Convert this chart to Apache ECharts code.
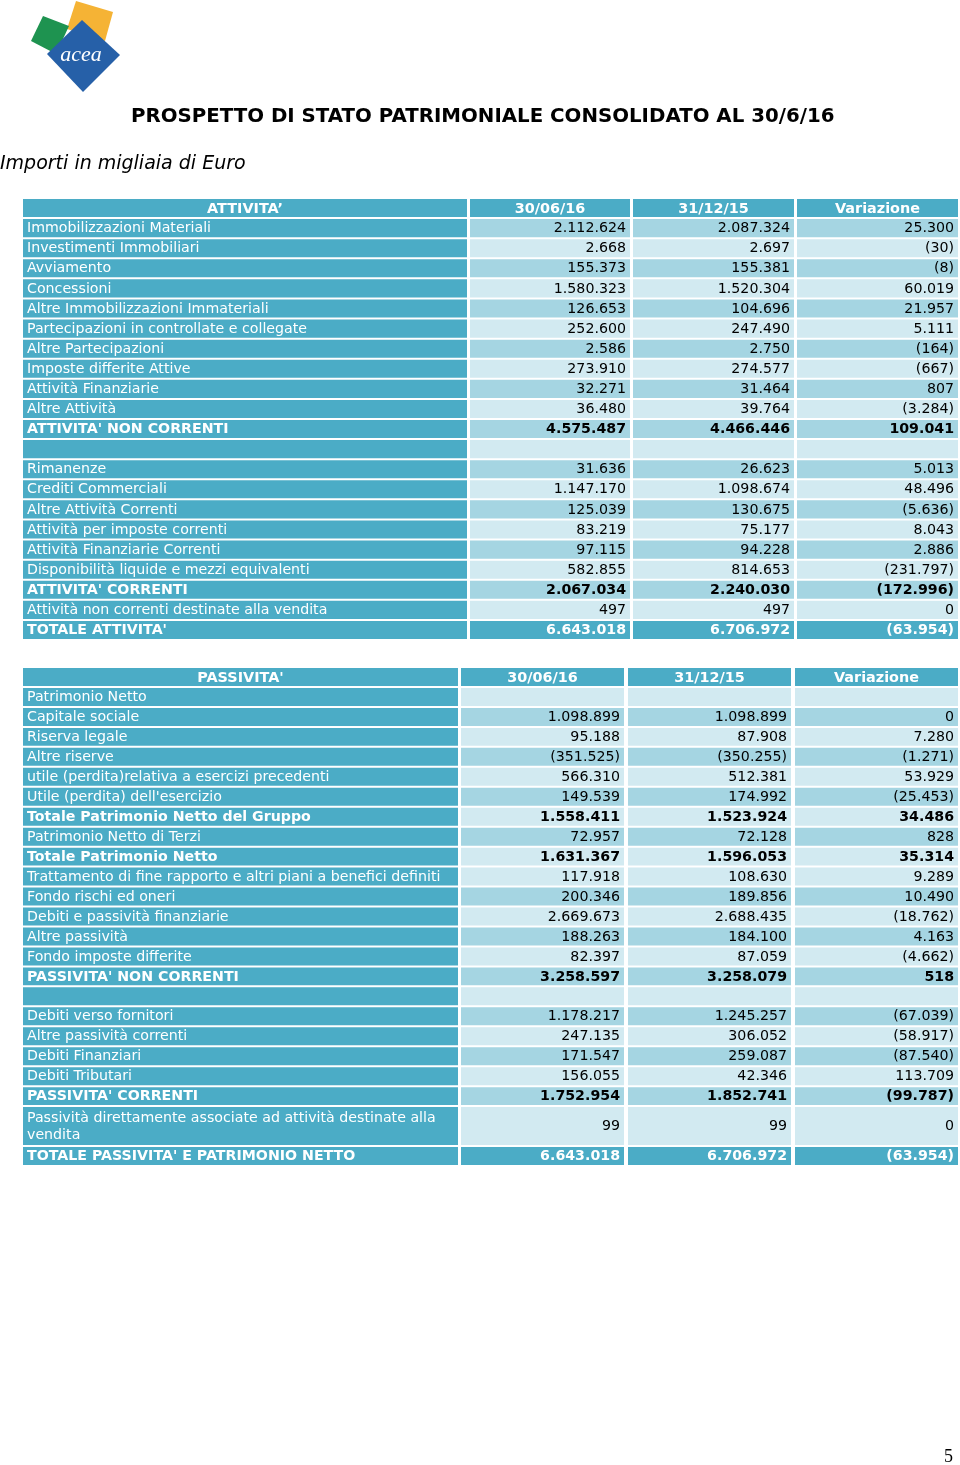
<!DOCTYPE html>
<html><head><meta charset="utf-8">
<script src="https://cdn.jsdelivr.net/npm/echarts@6/dist/echarts.min.js"></script>
<style>html,body{margin:0;padding:0;background:#fff}#c{width:960px;height:1465px}</style>
</head><body><div id="c"></div>
<script>
// ---------------- DATA ----------------
const attHeader = ["ATTIVITA’", "30/06/16", "31/12/15", "Variazione"];
const attLabels = [
  "Immobilizzazioni Materiali", "Investimenti Immobiliari", "Avviamento", "Concessioni",
  "Altre Immobilizzazioni Immateriali", "Partecipazioni in controllate e collegate",
  "Altre Partecipazioni", "Imposte differite Attive", "Attività Finanziarie", "Altre Attività",
  "ATTIVITA' NON CORRENTI", "",
  "Rimanenze", "Crediti Commerciali", "Altre Attività Correnti", "Attività per imposte correnti",
  "Attività Finanziarie Correnti", "Disponibilità liquide e mezzi equivalenti",
  "ATTIVITA' CORRENTI", "Attività non correnti destinate alla vendita", "TOTALE ATTIVITA'"
];
const attCur  = [2112624, 2668, 155373, 1580323, 126653, 252600, 2586, 273910, 32271, 36480, 4575487, null,
  31636, 1147170, 125039, 83219, 97115, 582855, 2067034, 497, 6643018];
const attPrev = [2087324, 2697, 155381, 1520304, 104696, 247490, 2750, 274577, 31464, 39764, 4466446, null,
  26623, 1098674, 130675, 75177, 94228, 814653, 2240030, 497, 6706972];
const attVar  = [25300, -30, -8, 60019, 21957, 5111, -164, -667, 807, -3284, 109041, null,
  5013, 48496, -5636, 8043, 2886, -231797, -172996, 0, -63954];
const attSubtotals = ["ATTIVITA' NON CORRENTI", "ATTIVITA' CORRENTI"];
const attTotal = "TOTALE ATTIVITA'";

const pasHeader = ["PASSIVITA'", "30/06/16", "31/12/15", "Variazione"];
const pasLabels = [
  "Patrimonio Netto", "Capitale sociale", "Riserva legale", "Altre riserve",
  "utile (perdita)relativa a esercizi precedenti", "Utile (perdita) dell'esercizio",
  "Totale Patrimonio Netto del Gruppo", "Patrimonio Netto di Terzi", "Totale Patrimonio Netto",
  "Trattamento di fine rapporto e altri piani a benefici definiti", "Fondo rischi ed oneri",
  "Debiti e passività finanziarie", "Altre passività", "Fondo imposte differite",
  "PASSIVITA' NON CORRENTI", "",
  "Debiti verso fornitori", "Altre passività correnti", "Debiti Finanziari", "Debiti Tributari",
  "PASSIVITA' CORRENTI", "Passività direttamente associate ad attività destinate alla vendita",
  "TOTALE PASSIVITA' E PATRIMONIO NETTO"
];
const pasCur  = [null, 1098899, 95188, -351525, 566310, 149539, 1558411, 72957, 1631367, 117918, 200346,
  2669673, 188263, 82397, 3258597, null, 1178217, 247135, 171547, 156055, 1752954, 99, 6643018];
const pasPrev = [null, 1098899, 87908, -350255, 512381, 174992, 1523924, 72128, 1596053, 108630, 189856,
  2688435, 184100, 87059, 3258079, null, 1245257, 306052, 259087, 42346, 1852741, 99, 6706972];
const pasVar  = [null, 0, 7280, -1271, 53929, -25453, 34486, 828, 35314, 9289, 10490,
  -18762, 4163, -4662, 518, null, -67039, -58917, -87540, 113709, -99787, 0, -63954];
const pasSubtotals = ["Totale Patrimonio Netto del Gruppo", "Totale Patrimonio Netto",
  "PASSIVITA' NON CORRENTI", "PASSIVITA' CORRENTI"];
const pasTotal = "TOTALE PASSIVITA' E PATRIMONIO NETTO";

// ---------------- STYLE / LAYOUT ----------------
const DARK = '#4BACC6', MED = '#A5D5E2', LIGHT = '#D2EAF1';
const FF = '"DejaVu Sans", Verdana, sans-serif';
const FS = 14.2, FSH = 14.4;

function fmt(v) {
  if (v === null || v === undefined) return '';
  const s = Math.abs(v).toString().replace(/\B(?=(\d{3})+(?!\d))/g, '.');
  return v < 0 ? '(' + s + ')' : s;
}
const mctx = document.createElement('canvas').getContext('2d');
mctx.font = FS + 'px ' + FF;

function buildTable(header, labels, cur, prev, vari, subs, total, cols, bandOf) {
  const rows = [{kind: 'header', cells: header, slot: 0, span: 1}];
  let slot = 1;
  const labW = cols[0][1] - cols[0][0] - 8;
  labels.forEach((l, i) => {
    const span = mctx.measureText(l).width > labW ? 2 : 1;
    const kind = l === total ? 'total' : (subs.indexOf(l) >= 0 ? 'sub' : 'row');
    rows.push({kind, cells: [l, fmt(cur[i]), fmt(prev[i]), fmt(vari[i])], slot, span, band: bandOf(i + 1)});
    slot += span;
  });
  return {rows, slots: slot, cols};
}

const attT = buildTable(attHeader, attLabels, attCur, attPrev, attVar, attSubtotals, attTotal,
  [[23, 467], [470, 630], [633, 794], [797, 958]], n => n % 2 === 1);
const pasT = buildTable(pasHeader, pasLabels, pasCur, pasPrev, pasVar, pasSubtotals, pasTotal,
  [[23, 458], [461, 624], [628, 791], [795, 958]], n => (n <= 9 ? n % 2 === 0 : n % 2 === 1));

function renderer(tbl) {
  return function (params, api) {
    const r = tbl.rows[params.dataIndex];
    const band = api.size([0, 1])[1];
    const yc = api.coord([tbl.cols[0][0], r.slot])[1];
    const top = yc - band / 2 + 1;
    const h = band * r.span - 2;
    const children = [];
    tbl.cols.forEach((c, ci) => {
      const x0 = api.coord([c[0], r.slot])[0], x1 = api.coord([c[1], r.slot])[0];
      const dark = r.kind === 'header' || r.kind === 'total' || ci === 0;
      children.push({type: 'rect', shape: {x: x0, y: top, width: x1 - x0, height: h},
        style: {fill: dark ? DARK : (r.band ? MED : LIGHT)}});
      const txt = r.cells[ci];
      if (!txt) return;
      const bold = r.kind !== 'row';
      const color = dark ? '#fff' : '#000';
      let align, tx, fs = FS, dy = 0.5;
      if (r.kind === 'header') { align = 'center'; tx = (x0 + x1) / 2; fs = FSH; dy = 1.5; }
      else if (ci === 0) { align = 'left'; tx = x0 + 4; }
      else { align = 'right'; tx = x1 - 4; }
      const st = {text: txt, x: tx, y: top + h / 2 + dy, fill: color,
        font: (bold ? 'bold ' : '') + fs + 'px ' + FF, align, verticalAlign: 'middle', lineHeight: 17};
      if (ci === 0 && r.span > 1) { st.width = x1 - x0 - 8; st.overflow = 'break'; }
      children.push({type: 'text', style: st});
    });
    return {type: 'group', children};
  };
}

function slotsCats(n) { return Array.from({length: n}, (_, i) => String(i)); }

const chart = echarts.init(document.getElementById('c'), null, {renderer: 'canvas'});
chart.setOption({
  animation: false,
  backgroundColor: '#fff',
  grid: [
    {left: 23, right: 2, top: 198, height: 442},
    {left: 23, right: 2, top: 667, height: 499}
  ],
  xAxis: [
    {gridIndex: 0, type: 'value', min: 23, max: 958, show: false},
    {gridIndex: 1, type: 'value', min: 23, max: 958, show: false}
  ],
  yAxis: [
    {gridIndex: 0, type: 'category', inverse: true, data: slotsCats(attT.slots), show: false},
    {gridIndex: 1, type: 'category', inverse: true, data: slotsCats(pasT.slots), show: false}
  ],
  series: [
    {type: 'custom', xAxisIndex: 0, yAxisIndex: 0, clip: false, renderItem: renderer(attT),
      encode: {x: 0, y: 1}, data: attT.rows.map(r => [23, r.slot])},
    {type: 'custom', xAxisIndex: 1, yAxisIndex: 1, clip: false, renderItem: renderer(pasT),
      encode: {x: 0, y: 1}, data: pasT.rows.map(r => [23, r.slot])}
  ],
  graphic: [
    {type: 'polygon', shape: {points: [[76, 1], [113, 12], [105, 41], [67, 29]]}, style: {fill: '#F5B335'}},
    {type: 'polygon', shape: {points: [[43, 16], [69, 26], [56, 54], [31, 41]]}, style: {fill: '#1E9350'}},
    {type: 'polygon', shape: {points: [[82, 20], [120, 55], [83, 92], [47, 54]]}, style: {fill: '#2660A8'}},
    {type: 'text', x: 81, y: 55, style: {text: 'acea', fill: '#fff', font: 'italic 22px "Liberation Serif", serif',
      align: 'center', verticalAlign: 'middle'}},
    {type: 'text', x: 131, y: 117, style: {text: 'PROSPETTO DI STATO PATRIMONIALE CONSOLIDATO AL 30/6/16',
      fill: '#000', font: 'bold 19.8px ' + FF, align: 'left', verticalAlign: 'middle'}},
    {type: 'text', x: 0, y: 164, style: {text: 'Importi in migliaia di Euro', fill: '#000',
      font: 'italic 19px ' + FF, align: 'left', verticalAlign: 'middle'}},
    {type: 'text', x: 953, y: 1457, style: {text: '5', fill: '#000', font: '18px "Liberation Serif", serif',
      align: 'right', verticalAlign: 'middle'}}
  ]
});
</script></body></html>
